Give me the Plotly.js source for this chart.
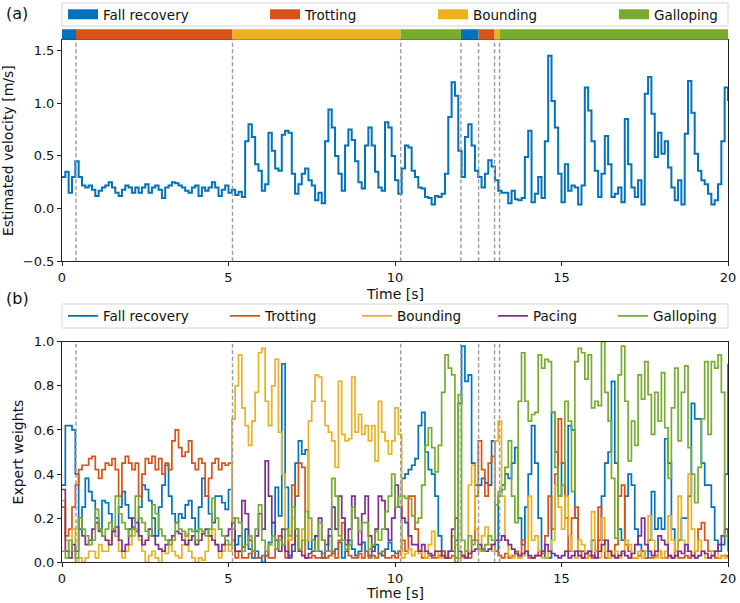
<!DOCTYPE html>
<html><head><meta charset="utf-8">
<script src="https://cdn.plot.ly/plotly-3.0.1.min.js"></script>
<style>html,body{margin:0;padding:0;background:#fff}#chart{width:740px;height:603px}</style>
</head><body><div id="chart"></div>
<script>
// ---- data ----
const gaitNames = ['Fall recovery', 'Trotting', 'Bounding', 'Galloping'];
const expertNames = ['Fall recovery', 'Trotting', 'Bounding', 'Pacing', 'Galloping'];
const phaseGait = ['Fall recovery', 'Trotting', 'Bounding', 'Galloping', 'Fall recovery', 'Trotting', 'Bounding', 'Galloping'];
const phaseStart = [0, 0.42, 5.12, 10.17, 11.98, 12.51, 12.99, 13.14];
const phaseEnd = [0.42, 5.12, 10.17, 11.98, 12.51, 12.99, 13.14, 20];
const timeStart = 0;
const timeStep = 0.1;
const xTicks = [0, 5, 10, 15, 20];

const velocity = [
0.30,0.35,0.15,0.30,0.45,0.30,0.22,0.20,0.22,0.18,
0.12,0.17,0.20,0.22,0.25,0.20,0.15,0.12,0.18,0.22,
0.20,0.15,0.20,0.15,0.20,0.23,0.15,0.20,0.22,0.18,
0.10,0.20,0.22,0.25,0.24,0.22,0.20,0.17,0.15,0.20,
0.22,0.12,0.20,0.17,0.20,0.25,0.20,0.12,0.18,0.22,
0.15,0.18,0.13,0.16,0.11,0.64,0.80,0.68,0.42,0.36,
0.17,0.23,0.72,0.55,0.38,0.36,0.70,0.74,0.72,0.33,
0.14,0.23,0.33,0.38,0.27,0.22,0.08,0.15,0.05,0.64,
0.94,0.77,0.50,0.33,0.17,0.60,0.75,0.65,0.45,0.25,
0.19,0.60,0.77,0.60,0.35,0.20,0.17,0.82,0.77,0.50,
0.27,0.14,0.38,0.60,0.58,0.36,0.30,0.20,0.19,0.11,
0.10,0.04,0.12,0.11,0.14,0.33,0.87,1.20,1.07,0.55,
0.30,0.68,0.80,0.60,0.36,0.30,0.20,0.33,0.46,0.40,
0.27,0.17,0.15,0.15,0.05,0.17,0.09,0.08,0.10,0.49,
0.74,0.06,0.14,0.30,0.10,0.64,1.45,1.02,0.77,0.33,
0.06,0.42,0.17,0.22,0.20,0.04,0.22,1.15,0.93,0.64,
0.36,0.11,0.33,0.69,0.42,0.11,0.14,0.20,0.06,0.85,
0.42,0.20,0.11,0.27,0.04,1.09,1.25,0.90,0.49,0.72,
0.52,0.64,0.39,0.20,0.08,0.27,0.04,0.71,1.21,0.91,
0.52,0.36,0.27,0.23,0.14,0.04,0.08,0.23,0.64,1.15,
1.02];

const wFallRecovery = [
0.35,0.62,0.62,0.60,0.40,0.15,0.25,0.38,0.32,0.28,
0.20,0.15,0.28,0.27,0.22,0.14,0.12,0.25,0.32,0.26,
0.20,0.16,0.14,0.25,0.35,0.33,0.28,0.20,0.12,0.25,
0.35,0.44,0.30,0.22,0.18,0.22,0.20,0.26,0.28,0.20,
0.14,0.25,0.38,0.30,0.22,0.18,0.30,0.30,0.27,0.24,
0.33,0.10,0.08,0.12,0.07,0.15,0.06,0.02,0.05,0.02,
0.00,0.03,0.09,0.18,0.34,0.21,0.90,0.34,0.03,0.05,
0.45,0.55,0.49,0.51,0.06,0.10,0.12,0.05,0.02,0.08,
0.12,0.04,0.06,0.09,0.02,0.05,0.10,0.06,0.03,0.05,
0.09,0.05,0.03,0.07,0.08,0.04,0.03,0.06,0.09,0.05,
0.04,0.05,0.38,0.40,0.42,0.44,0.47,0.62,0.68,0.50,
0.42,0.40,0.30,0.12,0.05,0.02,0.05,0.05,0.10,0.72,
0.98,0.82,0.85,0.45,0.35,0.35,0.38,0.36,0.35,0.55,
0.05,0.30,0.35,0.40,0.38,0.45,0.52,0.20,0.08,0.25,
0.40,0.62,0.45,0.20,0.05,0.02,0.02,0.68,0.50,0.30,
0.45,0.30,0.62,0.60,0.20,0.05,0.05,0.04,0.05,0.10,
0.05,0.10,0.30,0.45,0.50,0.82,0.45,0.15,0.10,0.30,
0.40,0.35,0.15,0.08,0.05,0.02,0.10,0.32,0.15,0.20,
0.15,0.56,0.45,0.15,0.05,0.10,0.20,0.20,0.30,0.72,
0.65,0.65,0.45,0.35,0.35,0.25,0.10,0.05,0.08,0.40,
0.90];

const wTrotting = [
0.25,0.12,0.15,0.25,0.35,0.42,0.44,0.44,0.47,0.48,
0.42,0.38,0.42,0.45,0.44,0.47,0.42,0.30,0.45,0.48,
0.45,0.42,0.45,0.30,0.40,0.47,0.45,0.48,0.42,0.47,
0.40,0.45,0.42,0.55,0.60,0.52,0.48,0.50,0.55,0.45,
0.42,0.47,0.45,0.30,0.38,0.45,0.47,0.42,0.45,0.44,
0.45,0.20,0.02,0.05,0.02,0.02,0.04,0.05,0.02,0.02,
0.03,0.05,0.02,0.02,0.06,0.12,0.08,0.02,0.10,0.35,
0.30,0.45,0.43,0.02,0.02,0.03,0.02,0.02,0.04,0.02,
0.03,0.05,0.02,0.10,0.18,0.10,0.03,0.02,0.02,0.04,
0.02,0.05,0.02,0.03,0.02,0.04,0.05,0.02,0.02,0.03,
0.02,0.05,0.10,0.05,0.30,0.30,0.15,0.05,0.02,0.02,
0.03,0.02,0.02,0.03,0.05,0.02,0.02,0.03,0.02,0.02,
0.03,0.05,0.02,0.10,0.30,0.55,0.42,0.30,0.45,0.48,
0.05,0.03,0.02,0.04,0.02,0.03,0.05,0.02,0.10,0.05,
0.02,0.02,0.03,0.05,0.04,0.12,0.30,0.15,0.40,0.65,
0.45,0.20,0.05,0.20,0.25,0.05,0.02,0.02,0.03,0.02,
0.05,0.25,0.10,0.02,0.05,0.03,0.08,0.30,0.35,0.08,
0.05,0.02,0.02,0.03,0.05,0.02,0.02,0.02,0.03,0.05,
0.02,0.02,0.03,0.02,0.05,0.02,0.02,0.03,0.02,0.03,
0.05,0.15,0.18,0.10,0.05,0.05,0.02,0.02,0.03,0.03,
0.02];

const wBounding = [
0.28,0.10,0.05,0.15,0.00,0.02,0.00,0.02,0.05,0.05,
0.02,0.08,0.05,0.05,0.10,0.15,0.12,0.05,0.02,0.05,
0.08,0.12,0.15,0.10,0.05,0.00,0.03,0.05,0.02,0.00,
0.05,0.04,0.10,0.05,0.03,0.02,0.08,0.13,0.05,0.02,
0.00,0.02,0.01,0.05,0.12,0.15,0.08,0.02,0.05,0.08,
0.05,0.65,0.80,0.94,0.70,0.62,0.53,0.64,0.77,0.95,
0.97,0.73,0.62,0.80,0.92,0.59,0.40,0.15,0.10,0.20,
0.12,0.05,0.15,0.10,0.64,0.73,0.85,0.84,0.73,0.62,
0.59,0.55,0.43,0.82,0.58,0.55,0.56,0.84,0.59,0.67,
0.58,0.62,0.55,0.62,0.46,0.73,0.59,0.55,0.49,0.55,
0.70,0.58,0.02,0.04,0.06,0.03,0.05,0.04,0.05,0.02,
0.08,0.14,0.05,0.02,0.02,0.03,0.05,0.12,0.08,0.02,
0.02,0.05,0.35,0.44,0.15,0.05,0.12,0.16,0.08,0.05,
0.55,0.64,0.30,0.10,0.03,0.02,0.04,0.02,0.03,0.05,
0.30,0.10,0.12,0.05,0.02,0.02,0.05,0.10,0.35,0.25,
0.15,0.30,0.12,0.05,0.02,0.10,0.08,0.02,0.05,0.23,
0.05,0.02,0.20,0.05,0.02,0.03,0.05,0.02,0.04,0.10,
0.08,0.02,0.02,0.05,0.02,0.05,0.21,0.10,0.02,0.05,
0.02,0.05,0.21,0.10,0.05,0.30,0.10,0.05,0.40,0.15,
0.05,0.10,0.05,0.02,0.02,0.05,0.05,0.02,0.03,0.02,
0.02];

const wPacing = [
0.33,0.05,0.02,0.08,0.05,0.20,0.12,0.08,0.10,0.15,
0.18,0.14,0.12,0.10,0.08,0.14,0.16,0.10,0.05,0.08,
0.15,0.20,0.18,0.12,0.08,0.10,0.15,0.12,0.08,0.06,
0.05,0.08,0.10,0.12,0.14,0.13,0.10,0.08,0.10,0.12,
0.08,0.10,0.13,0.15,0.12,0.10,0.08,0.05,0.08,0.12,
0.15,0.18,0.05,0.05,0.28,0.22,0.10,0.05,0.12,0.22,
0.15,0.46,0.30,0.18,0.10,0.05,0.15,0.05,0.02,0.08,
0.15,0.05,0.03,0.02,0.04,0.05,0.12,0.20,0.10,0.05,
0.15,0.25,0.15,0.30,0.20,0.08,0.15,0.30,0.20,0.08,
0.22,0.30,0.12,0.05,0.15,0.30,0.28,0.15,0.10,0.20,
0.35,0.25,0.20,0.18,0.12,0.08,0.08,0.05,0.08,0.05,
0.04,0.03,0.05,0.05,0.03,0.02,0.05,0.15,0.20,0.05,
0.03,0.02,0.04,0.05,0.06,0.08,0.06,0.05,0.06,0.08,
0.10,0.10,0.12,0.10,0.08,0.06,0.04,0.03,0.04,0.05,
0.03,0.02,0.03,0.03,0.05,0.08,0.05,0.04,0.03,0.02,
0.03,0.05,0.02,0.03,0.05,0.03,0.02,0.04,0.05,0.03,
0.02,0.05,0.08,0.10,0.05,0.03,0.02,0.03,0.05,0.03,
0.02,0.04,0.08,0.12,0.20,0.08,0.05,0.03,0.05,0.12,
0.10,0.08,0.03,0.02,0.03,0.05,0.04,0.08,0.05,0.03,
0.02,0.03,0.05,0.04,0.02,0.03,0.05,0.08,0.12,0.15,
0.05];

const wGalloping = [
0.05,0.02,0.10,0.05,0.02,0.20,0.15,0.12,0.08,0.10,
0.24,0.15,0.12,0.15,0.18,0.15,0.30,0.22,0.18,0.15,
0.12,0.15,0.30,0.20,0.18,0.14,0.12,0.26,0.22,0.15,
0.12,0.10,0.08,0.10,0.18,0.15,0.14,0.12,0.15,0.14,
0.10,0.15,0.14,0.12,0.15,0.29,0.20,0.15,0.12,0.10,
0.08,0.15,0.20,0.18,0.05,0.08,0.12,0.05,0.15,0.26,
0.10,0.05,0.08,0.12,0.06,0.10,0.08,0.15,0.12,0.25,
0.15,0.06,0.10,0.23,0.20,0.10,0.05,0.18,0.10,0.05,
0.05,0.38,0.30,0.12,0.10,0.06,0.08,0.25,0.20,0.14,
0.18,0.18,0.06,0.08,0.14,0.10,0.15,0.23,0.30,0.40,
0.25,0.30,0.30,0.29,0.29,0.21,0.18,0.20,0.35,0.53,
0.61,0.52,0.41,0.53,0.77,0.94,0.88,0.85,0.00,0.76,
0.10,0.05,0.12,0.08,0.10,0.06,0.05,0.08,0.12,0.10,
0.26,0.32,0.33,0.43,0.55,0.30,0.18,0.73,0.95,0.73,
0.64,0.67,0.68,0.94,0.88,0.92,0.91,0.68,0.43,0.30,
0.35,0.73,0.64,0.32,0.91,0.97,0.95,0.83,0.94,0.70,
0.73,0.71,1.00,0.77,0.64,0.38,0.11,0.85,0.98,0.73,
0.46,0.64,0.53,0.85,0.74,0.91,0.76,0.58,0.77,0.64,
0.86,0.61,0.38,0.70,0.88,0.55,0.77,0.89,0.52,0.40,
0.27,0.43,0.65,0.91,0.58,0.91,0.88,0.94,0.77,0.12,
0.05];

// ---- styling ----
const colorOf = {
  'Fall recovery': '#0072BD', 'Trotting': '#D95319', 'Bounding': '#EDB120',
  'Pacing': '#7E2F8E', 'Galloping': '#77AC30'
};
const W = 740, H = 603;
const FONT = 'DejaVu Sans, Liberation Sans, sans-serif';
const topLegendPx = [68, 270, 438, 619];
const botLegendPx = [68, 230, 362, 498, 618];

const traces = [];
const legends = {};
let legIdx = 1;
function legendKey() { const k = legIdx === 1 ? 'legend' : 'legend' + legIdx; legIdx++; return k; }

// gait colour band (one trace per gait, drawn from the phase arrays)
gaitNames.forEach((g, i) => {
  const xs = [], ys = [];
  phaseGait.forEach((pg, j) => {
    if (pg === g) { xs.push(phaseStart[j], phaseEnd[j], null); ys.push(0, 0, null); }
  });
  const lk = legendKey();
  legends[lk] = { px: topLegendPx[i], py: 14.5 };
  traces.push({
    type: 'scatter', mode: 'lines', x: xs, y: ys, xaxis: 'x', yaxis: 'y3',
    name: g, legend: lk, showlegend: true,
    line: { color: colorOf[g], width: 10.5 }, hoverinfo: 'skip'
  });
});

// velocity
traces.push({
  type: 'scatter', mode: 'lines', x0: timeStart, dx: timeStep, y: velocity,
  xaxis: 'x', yaxis: 'y', showlegend: false,
  line: { color: colorOf['Fall recovery'], width: 2, shape: 'hv' }
});

// expert weights
const weightSeries = [wFallRecovery, wTrotting, wBounding, wPacing, wGalloping];
expertNames.forEach((n, i) => {
  const lk = legendKey();
  legends[lk] = { px: botLegendPx[i], py: 316 };
  traces.push({
    type: 'scatter', mode: 'lines', x0: timeStart, dx: timeStep, y: weightSeries[i],
    xaxis: 'x2', yaxis: 'y2', name: n, legend: lk, showlegend: true,
    line: { color: colorOf[n], width: 1.7, shape: 'hv' }
  });
});

const axisCommon = {
  showline: true, mirror: true, linecolor: '#222', linewidth: 1,
  ticks: 'outside', ticklen: 4, tickwidth: 1, tickcolor: '#222',
  showgrid: false, zeroline: false,
  tickfont: { family: FONT, size: 13, color: '#111' }
};
const titleFont = { family: FONT, size: 14, color: '#111' };

const layout = {
  width: W, height: H, paper_bgcolor: '#fff', plot_bgcolor: '#fff',
  margin: { l: 62, r: 12, t: 0, b: 0, autoexpand: false },
  font: { family: FONT, size: 13, color: '#111' },
  xaxis: Object.assign({}, axisCommon, {
    domain: [0, 1], range: [0, 20], anchor: 'y', tickvals: xTicks
  }),
  yaxis: Object.assign({}, axisCommon, {
    domain: [1 - 261.3 / H, 1 - 40 / H], range: [-0.5, 1.6], anchor: 'x',
    tickvals: [-0.5, 0, 0.5, 1.0, 1.5], tickformat: '.1f',
    title: { text: 'Estimated velocity [m/s]', font: titleFont, standoff: 6 }
  }),
  yaxis3: {
    domain: [1 - 40 / H, 1 - 29 / H], range: [-1, 1], anchor: 'x',
    visible: false, fixedrange: true
  },
  xaxis2: Object.assign({}, axisCommon, {
    domain: [0, 1], range: [0, 20], anchor: 'y2', tickvals: xTicks
  }),
  yaxis2: Object.assign({}, axisCommon, {
    domain: [1 - 562.3 / H, 1 - 341.7 / H], range: [0, 1], anchor: 'x2',
    tickvals: [0, 0.2, 0.4, 0.6, 0.8, 1.0], tickformat: '.1f',
    title: { text: 'Expert weights', font: titleFont, standoff: 6 }
  }),
  shapes: [],
  annotations: [
    { text: '(a)', xref: 'paper', yref: 'paper', x: (4 - 62) / 666, y: 1 - 13 / H,
      xanchor: 'left', yanchor: 'middle', showarrow: false, font: { family: FONT, size: 16, color: '#111' } },
    { text: '(b)', xref: 'paper', yref: 'paper', x: (4 - 62) / 666, y: 1 - 298 / H,
      xanchor: 'left', yanchor: 'middle', showarrow: false, font: { family: FONT, size: 16, color: '#111' } },
    { text: 'Time [s]', xref: 'paper', yref: 'paper', x: 0.5, y: 1 - 294 / H,
      xanchor: 'center', yanchor: 'middle', showarrow: false, font: titleFont },
    { text: 'Time [s]', xref: 'paper', yref: 'paper', x: 0.5, y: 1 - 593 / H,
      xanchor: 'center', yanchor: 'middle', showarrow: false, font: titleFont }
  ],
  showlegend: true
};

// legend boxes
[[3, 26], [304, 328]].forEach(([t, b]) => {
  layout.shapes.push({ type: 'rect', xref: 'paper', yref: 'paper', x0: 0, x1: 1,
    y0: 1 - b / H, y1: 1 - t / H, line: { color: '#d5d5d5', width: 1 }, fillcolor: 'rgba(255,255,255,0.8)', layer: 'below' });
});

// transitions
phaseStart.slice(1).forEach(tx => {
  [['x', 'y domain'], ['x2', 'y2 domain']].forEach(([xr, yr]) => {
    layout.shapes.push({ type: 'line', xref: xr, yref: yr, x0: tx, x1: tx, y0: 0, y1: 1,
      line: { color: '#9a9a9a', width: 1.4, dash: '4px,2.5px' }, layer: 'above' });
  });
});

Object.keys(legends).forEach(k => {
  const L = legends[k];
  layout[k] = {
    xref: 'container', yref: 'container', x: (L.px - 5) / W, y: 1 - L.py / H,
    xanchor: 'left', yanchor: 'middle', orientation: 'h',
    bgcolor: 'rgba(0,0,0,0)', borderwidth: 0,
    font: { family: FONT, size: 13.5, color: '#111' }
  };
});

Plotly.newPlot('chart', traces, layout, { staticPlot: true, displayModeBar: false });
</script>
</body></html>
